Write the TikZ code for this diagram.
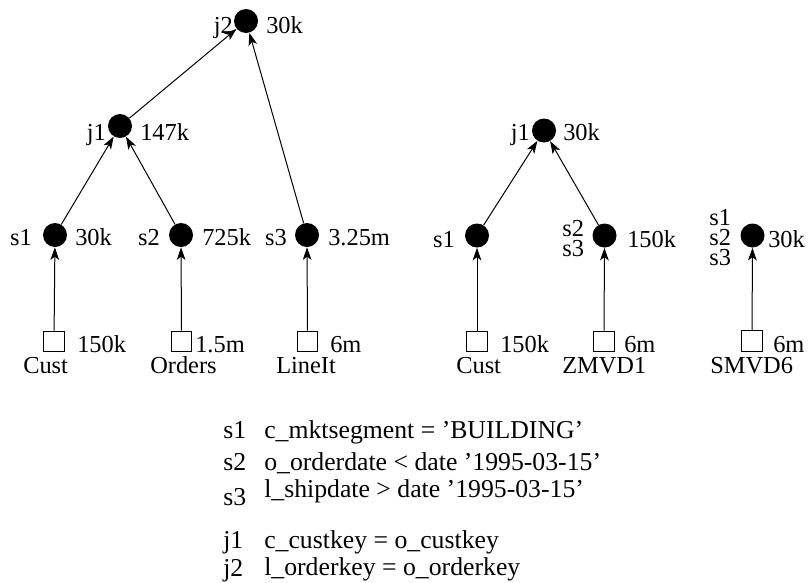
\documentclass[tikz,border=0pt]{standalone}
\usepackage{fontspec}
\setmainfont{Liberation Serif}
\usetikzlibrary{arrows.meta}
\begin{document}
\begin{tikzpicture}[x=0.75pt,y=-0.75pt,
  font=\fontsize{18.3}{20}\selectfont,
  op/.style={circle,fill=black,inner sep=0pt,minimum size=18pt},
  rel/.style={draw=black,line width=0.75pt,inner sep=0pt,minimum size=15.5pt},
  lbl/.style={inner sep=0pt},
  legend/.style={inner sep=0pt,anchor=base west,font=\fontsize{19.3}{22}\selectfont},
  flow/.style={line width=0.75pt,-{Stealth[length=9.5pt,width=6.5pt,inset=2.5pt]}}]
\useasboundingbox (0,0) rectangle (812,582);

% ---- plan without views ----
\node[op] (j2) at (246,21) {};
\node[op] (j1) at (120,126) {};
\node[op] (s1) at (55,235) {};
\node[op] (s2) at (181,235) {};
\node[op] (s3) at (307,235) {};
\node[rel] (cust) at (54,341.5) {};
\node[rel] (ord) at (181.5,341.5) {};
\node[rel] (line) at (307.5,341.5) {};

\node[lbl,anchor=base east] (j2n) at (233,33) {j2};
\node[lbl,anchor=base west] (j2c) at (266,33) {30k};
\node[lbl,anchor=base east] (j1n) at (106,140) {j1};
\node[lbl,anchor=base west] (j1c) at (140,140) {147k};
\node[lbl,anchor=base east] (s1n) at (32,245) {s1};
\node[lbl,anchor=base west] (s1c) at (75,245) {30k};
\node[lbl,anchor=base east] (s2n) at (160,245) {s2};
\node[lbl,anchor=base west] (s2c) at (202,245) {725k};
\node[lbl,anchor=base east] (s3n) at (287,245) {s3};
\node[lbl,anchor=base west] (s3c) at (328,245) {3.25m};
\node[lbl,anchor=base west] (custc) at (77,352) {150k};
\node[lbl,anchor=base west] (ordc) at (195,352) {1.5m};
\node[lbl,anchor=base west] (linec) at (330,352) {6m};
\node[lbl,anchor=base west] (custn) at (23,373) {Cust};
\node[lbl,anchor=base west] (ordn) at (150,373) {Orders};
\node[lbl,anchor=base west] (linen) at (276,373) {LineIt};

\draw[flow] (cust) -- (s1);
\draw[flow] (ord) -- (s2);
\draw[flow] (line) -- (s3);
\draw[flow] (s1) -- (j1);
\draw[flow] (s2) -- (j1);
\draw[flow] (j1) -- (j2);
\draw[flow] (s3) -- (j2);

% ---- plan using ZMVD1 ----
\node[op] (vj1) at (544,130.5) {};
\node[op] (vs1) at (477,235.5) {};
\node[op] (vs23) at (604.5,235.5) {};
\node[rel] (vcust) at (477,341.5) {};
\node[rel] (zmvd) at (604,341.5) {};

\node[lbl,anchor=base east] (vj1n) at (530,140) {j1};
\node[lbl,anchor=base west] (vj1c) at (563,140) {30k};
\node[lbl,anchor=base east] (vs1n) at (455,247) {s1};
\node[lbl,anchor=base west] (vs2n) at (562,236) {s2};
\node[lbl,anchor=base west] (vs3n) at (562,256) {s3};
\node[lbl,anchor=base west] (vs23c) at (627,247) {150k};
\node[lbl,anchor=base west] (vcustc) at (500,352) {150k};
\node[lbl,anchor=base west] (zmvdc) at (624,352) {6m};
\node[lbl,anchor=base west] (vcustn) at (456,373) {Cust};
\node[lbl,anchor=base west] (zmvdn) at (562,373) {ZMVD1};

\draw[flow] (vcust) -- (vs1);
\draw[flow] (zmvd) -- (vs23);
\draw[flow] (vs1) -- (vj1);
\draw[flow] (vs23) -- (vj1);

% ---- plan using SMVD6 ----
\node[op] (ws) at (752.5,235.5) {};
\node[rel] (smvd) at (752,341) {};
\node[lbl,anchor=base west] (ws1n) at (709,225) {s1};
\node[lbl,anchor=base west] (ws2n) at (709,245) {s2};
\node[lbl,anchor=base west] (ws3n) at (709,265) {s3};
\node[lbl,anchor=base west] (wsc) at (768,247) {30k};
\node[lbl,anchor=base west] (smvdc) at (773,352) {6m};
\node[lbl,anchor=base west] (smvdn) at (710,373) {SMVD6};
\draw[flow] (smvd) -- (ws);

% ---- predicate legend ----
\node[legend] (k1) at (223,438) {s1};
\node[legend] (p1) at (264,438) {c\_mktsegment = ’BUILDING’};
\node[legend] (k2) at (223,470) {s2};
\node[legend] (p2) at (264,470) {o\_orderdate < date ’1995-03-15’};
\node[legend] (k3) at (223,505) {s3};
\node[legend] (p3) at (264,497) {l\_shipdate > date ’1995-03-15’};
\node[legend] (k4) at (223,548) {j1};
\node[legend] (p4) at (264,548) {c\_custkey = o\_custkey};
\node[legend] (k5) at (223,576) {j2};
\node[legend] (p5) at (264,575) {l\_orderkey = o\_orderkey};
\end{tikzpicture}
\end{document}
